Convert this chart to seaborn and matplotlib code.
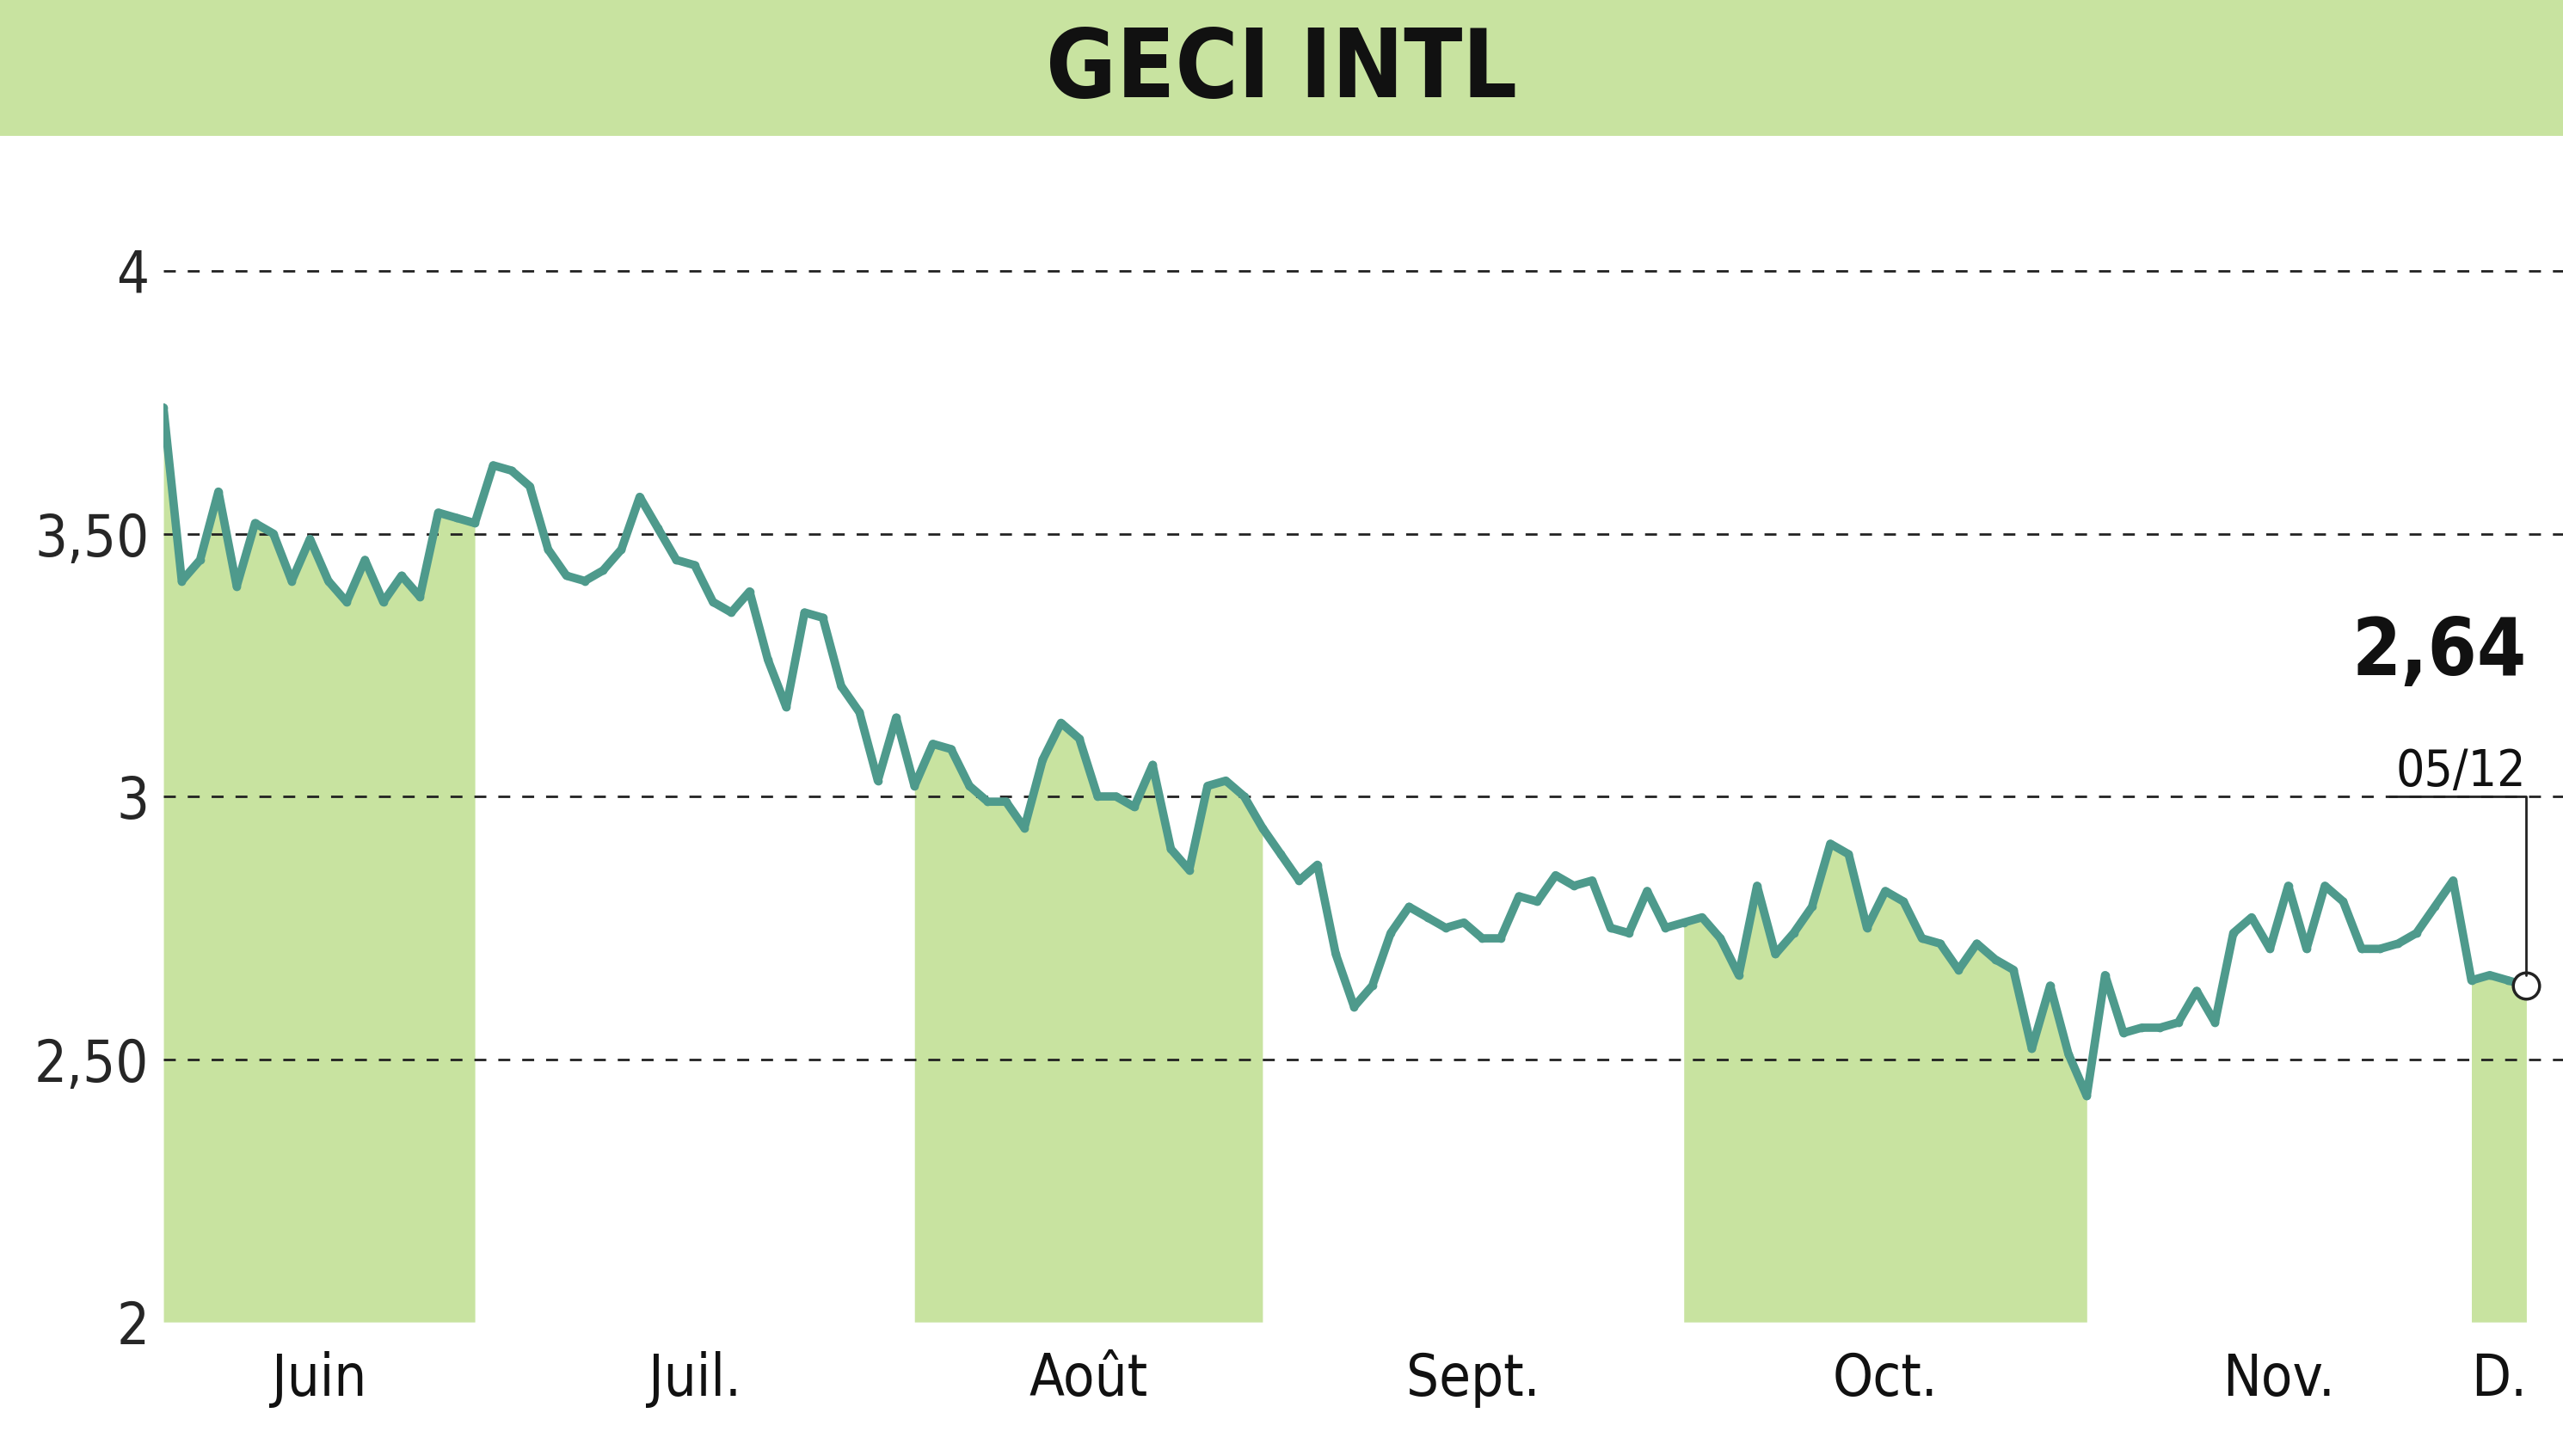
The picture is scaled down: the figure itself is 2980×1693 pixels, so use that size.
import numpy as np
import pandas as pd
import matplotlib
matplotlib.use("Agg")
import matplotlib.pyplot as plt
import seaborn as sns

# %% data
months = ["Juin", "Juil.", "Août", "Sept.", "Oct.", "Nov.", "D."]
juin = [3.74, 3.41, 3.45, 3.58, 3.40, 3.52, 3.50, 3.41, 3.49, 3.41, 3.37, 3.45, 3.37, 3.42, 3.38, 3.54, 3.53, 3.52]
juil = [3.63, 3.62, 3.59, 3.47, 3.42, 3.41, 3.43, 3.47, 3.57, 3.51, 3.45, 3.44, 3.37, 3.35, 3.39, 3.26, 3.17, 3.35, 3.34, 3.21, 3.16, 3.03, 3.15]
aout = [3.02, 3.10, 3.09, 3.02, 2.99, 2.99, 2.94, 3.07, 3.14, 3.11, 3.00, 3.00, 2.98, 3.06, 2.90, 2.86, 3.02, 3.03, 3.00, 2.94]
sept = [2.89, 2.84, 2.87, 2.70, 2.60, 2.64, 2.74, 2.79, 2.77, 2.75, 2.76, 2.73, 2.73, 2.81, 2.80, 2.85, 2.83, 2.84, 2.75, 2.74, 2.82, 2.75]
octo = [2.76, 2.77, 2.73, 2.66, 2.83, 2.70, 2.74, 2.79, 2.91, 2.89, 2.75, 2.82, 2.80, 2.73, 2.72, 2.67, 2.72, 2.69, 2.67, 2.52, 2.64, 2.51, 2.43]
nov = [2.66, 2.55, 2.56, 2.56, 2.57, 2.63, 2.57, 2.74, 2.77, 2.71, 2.83, 2.71, 2.83, 2.80, 2.71, 2.71, 2.72, 2.74, 2.79, 2.84]
dec = [2.65, 2.66, 2.65, 2.64]
series = [juin, juil, aout, sept, octo, nov, dec]
yticks = [2, 2.5, 3, 3.5, 4]
ytick_labels = ["2", "2,50", "3", "3,50", "4"]

prices = np.concatenate(series)
df = pd.DataFrame({"day": np.arange(len(prices)), "price": prices})

line_color = "#4e9a8c"
fill_color = "#c8e3a0"
H = 891

sns.set_style("white")
plt.rcParams["font.family"] = ["DejaVu Sans"]

fig = plt.figure(figsize=(29.8, 16.93), dpi=100)
# title band
band = fig.add_axes([0, 1 - 83 / H, 1, 83 / H])
band.set_facecolor(fill_color)
band.set_xticks([]); band.set_yticks([])
for s in band.spines.values():
    s.set_visible(False)
band.text(0.5, 0.48, "GECI INTL", ha="center", va="center", fontsize=80,
          fontweight="bold", fontstretch="condensed", color="#111111")

ax = fig.add_axes([100 / 1568, 1 - 809 / H, 1 - 100 / 1568, (809 - 95) / H])
xmax = len(prices) - 1 + 2
ax.set_xlim(0, xmax)
ax.set_ylim(2, 4.22)

# shaded months
start = 0
for i, s in enumerate(series):
    idx = np.arange(start, start + len(s))
    if i % 2 == 0:
        ax.fill_between(idx, 2, s, color=fill_color, lw=0, zorder=1)
    ax.text(idx.mean(), -0.025, months[i], transform=ax.get_xaxis_transform(),
            ha="center", va="top", fontsize=48, fontstretch="condensed", color="#111111")
    start += len(s)

ax.hlines(yticks[1:], 0, xmax, colors="#222222", linestyles=(0, (5, 5)), lw=2, zorder=2.5)

sns.lineplot(data=df, x="day", y="price", ax=ax, color=line_color, lw=7, zorder=3,
             marker="o", markersize=7, markeredgewidth=0)

last = len(prices) - 1
ax.plot(last, prices[-1], "o", ms=22, mfc="white", mec="#222222", mew=2.5, zorder=4)
ax.plot([last - 7.5, last, last], [3.0, 3.0, prices[-1] + 0.02], color="#222222", lw=2, zorder=4)
ax.text(last, 3.2, "2,64", ha="right", va="bottom", fontsize=66, fontweight="bold",
        fontstretch="condensed", color="#111111")
ax.text(last, 3.0, "05/12", ha="right", va="bottom", fontsize=42,
        fontstretch="condensed", color="#111111")

ax.set_yticks(yticks)
ax.set_yticklabels(ytick_labels, fontsize=48, fontstretch="condensed")
ax.set_xticks([])
ax.tick_params(axis="y", length=0, pad=12)
ax.set_xlabel(""); ax.set_ylabel("")
for s in ax.spines.values():
    s.set_visible(False)

fig.savefig("out.png", dpi=100)
